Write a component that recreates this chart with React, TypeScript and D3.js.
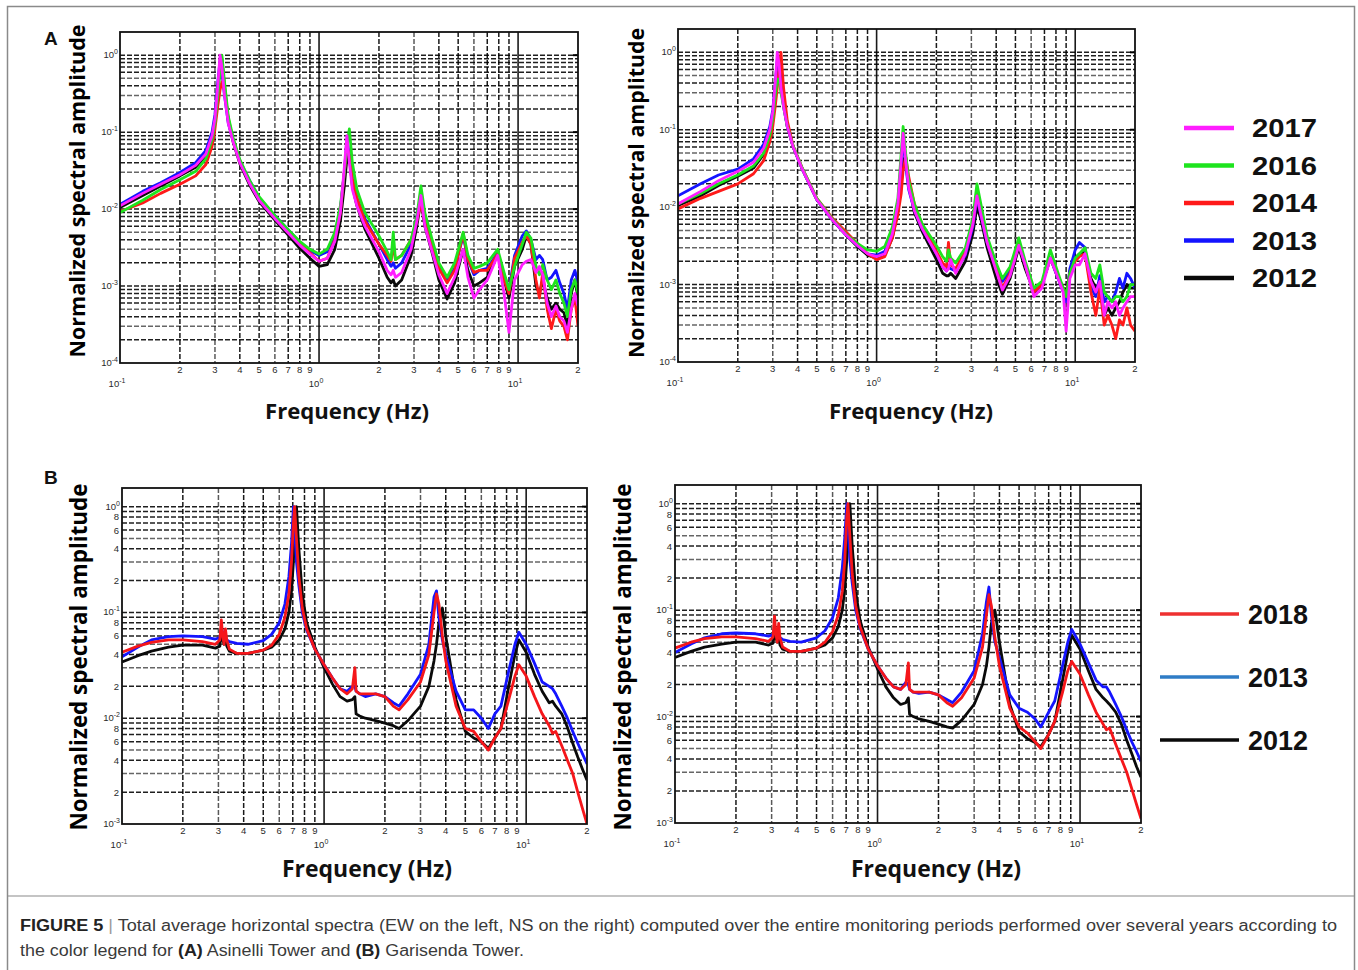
import React from "react";
import * as d3 from "d3";

// ---------------- Data ----------------
// Panel A, left (EW), Asinelli Tower
const FREQ_A_EW = [0.10, 0.13, 0.16, 0.20, 0.24, 0.27, 0.29, 0.30, 0.31, 0.318, 0.325, 0.335, 0.35, 0.37, 0.40, 0.45, 0.50, 0.60, 0.70, 0.80, 0.90, 1.00, 1.10, 1.20, 1.28, 1.34, 1.38, 1.42, 1.47, 1.55, 1.70, 2.00, 2.20, 2.30, 2.36, 2.42, 2.60, 2.90, 3.10, 3.25, 3.40, 3.70, 4.00, 4.40, 4.80, 5.30, 5.60, 6.00, 6.40, 7.00, 7.90, 8.50, 9.00, 9.60, 10.5, 11.0, 11.6, 12.3, 12.8, 13.3, 14.0, 14.7, 15.5, 16.2, 17.0, 17.7, 18.5, 19.3, 20.0];
const A_EW_2017 = [0.011, 0.016, 0.021, 0.028, 0.037, 0.052, 0.09, 0.15, 0.40, 1.0, 0.7, 0.3, 0.13, 0.075, 0.040, 0.021, 0.013, 0.0075, 0.0049, 0.0034, 0.0026, 0.0021, 0.0023, 0.0038, 0.009, 0.035, 0.09, 0.04, 0.018, 0.011, 0.006, 0.0028, 0.0016, 0.0014, 0.0016, 0.0013, 0.0015, 0.003, 0.007, 0.015, 0.006, 0.0028, 0.0014, 0.0008, 0.0013, 0.003, 0.0013, 0.0007, 0.0009, 0.0012, 0.0025, 0.0008, 0.00025, 0.0012, 0.0019, 0.0021, 0.0022, 0.0015, 0.0018, 0.0014, 0.0006, 0.0004, 0.00055, 0.0004, 0.00035, 0.00025, 0.0005, 0.0008, 0.00055];
const A_EW_2016 = [0.009, 0.013, 0.018, 0.024, 0.031, 0.045, 0.08, 0.13, 0.30, 0.6, 1.0, 0.45, 0.16, 0.085, 0.044, 0.023, 0.0145, 0.0082, 0.0054, 0.0038, 0.003, 0.0026, 0.003, 0.005, 0.011, 0.03, 0.07, 0.11, 0.04, 0.018, 0.009, 0.0045, 0.0028, 0.0022, 0.005, 0.0022, 0.0025, 0.004, 0.008, 0.02, 0.009, 0.004, 0.002, 0.0013, 0.002, 0.005, 0.0025, 0.0017, 0.0018, 0.002, 0.003, 0.0015, 0.0009, 0.0018, 0.0035, 0.005, 0.0042, 0.0018, 0.0014, 0.0019, 0.0012, 0.0009, 0.0012, 0.0008, 0.0006, 0.0004, 0.0009, 0.0012, 0.0008];
const A_EW_2014 = [0.0093, 0.012, 0.016, 0.021, 0.027, 0.038, 0.065, 0.11, 0.22, 0.35, 0.45, 0.35, 0.15, 0.08, 0.042, 0.022, 0.0135, 0.0078, 0.0051, 0.0035, 0.0027, 0.0021, 0.0023, 0.004, 0.009, 0.03, 0.065, 0.05, 0.025, 0.014, 0.007, 0.0035, 0.0025, 0.0021, 0.0035, 0.0022, 0.0025, 0.004, 0.007, 0.012, 0.007, 0.0035, 0.0017, 0.0011, 0.0016, 0.0048, 0.0022, 0.0015, 0.0016, 0.0016, 0.0026, 0.0012, 0.0008, 0.0023, 0.0037, 0.0045, 0.0035, 0.0012, 0.0007, 0.0015, 0.0005, 0.00028, 0.0005, 0.00035, 0.0003, 0.0002, 0.0005, 0.0007, 0.0003];
const A_EW_2013 = [0.0115, 0.017, 0.022, 0.030, 0.040, 0.058, 0.10, 0.17, 0.45, 0.85, 0.6, 0.3, 0.13, 0.078, 0.042, 0.023, 0.014, 0.0082, 0.0054, 0.0037, 0.0029, 0.0025, 0.0028, 0.0045, 0.01, 0.03, 0.08, 0.05, 0.025, 0.014, 0.0075, 0.0035, 0.0022, 0.0018, 0.002, 0.0017, 0.002, 0.0035, 0.008, 0.014, 0.007, 0.0035, 0.0018, 0.0012, 0.0017, 0.0045, 0.0022, 0.0014, 0.0016, 0.0017, 0.0027, 0.0014, 0.0009, 0.0025, 0.0045, 0.0052, 0.004, 0.0022, 0.0025, 0.0022, 0.0012, 0.0013, 0.0016, 0.0011, 0.0008, 0.0005, 0.0012, 0.0016, 0.0011];
const A_EW_2012 = [0.0105, 0.015, 0.020, 0.027, 0.035, 0.050, 0.085, 0.14, 0.35, 0.7, 0.9, 0.4, 0.14, 0.075, 0.039, 0.020, 0.0125, 0.0072, 0.0046, 0.0031, 0.0023, 0.0018, 0.0019, 0.003, 0.007, 0.02, 0.045, 0.05, 0.02, 0.011, 0.0055, 0.0023, 0.0013, 0.0011, 0.0012, 0.001, 0.0012, 0.0025, 0.006, 0.013, 0.006, 0.0027, 0.0012, 0.00068, 0.0011, 0.003, 0.0016, 0.001, 0.0011, 0.0013, 0.0028, 0.0012, 0.0007, 0.0018, 0.003, 0.0045, 0.0035, 0.001, 0.0008, 0.0012, 0.0007, 0.0005, 0.0006, 0.0005, 0.00045, 0.0003, 0.0008, 0.0012, 0.0007];

// Panel A, right (NS)
const FREQ_A_NS = [0.10, 0.13, 0.16, 0.20, 0.24, 0.27, 0.29, 0.30, 0.31, 0.316, 0.323, 0.33, 0.34, 0.355, 0.38, 0.42, 0.50, 0.60, 0.70, 0.80, 0.90, 1.00, 1.10, 1.20, 1.28, 1.33, 1.36, 1.40, 1.45, 1.55, 1.70, 2.00, 2.15, 2.25, 2.30, 2.36, 2.50, 2.80, 3.05, 3.20, 3.35, 3.60, 4.00, 4.30, 4.70, 5.20, 5.60, 6.20, 6.80, 7.50, 8.20, 8.70, 9.00, 9.40, 10.0, 10.5, 11.2, 12.0, 12.7, 13.3, 14.0, 14.6, 15.3, 16.0, 16.7, 17.4, 18.2, 19.0, 20.0];
const A_NS_2017 = [0.011, 0.016, 0.022, 0.029, 0.038, 0.058, 0.10, 0.17, 0.45, 1.0, 0.7, 0.35, 0.2, 0.11, 0.06, 0.032, 0.0125, 0.0068, 0.0044, 0.0032, 0.0025, 0.0023, 0.0025, 0.0045, 0.011, 0.04, 0.09, 0.04, 0.018, 0.009, 0.0052, 0.0025, 0.0017, 0.0015, 0.0016, 0.0021, 0.0014, 0.0025, 0.006, 0.014, 0.008, 0.0035, 0.0015, 0.00085, 0.0013, 0.0032, 0.0018, 0.0007, 0.0009, 0.0022, 0.0012, 0.0008, 0.00025, 0.0012, 0.0018, 0.0018, 0.0025, 0.0011, 0.0008, 0.0011, 0.0004, 0.0006, 0.0005, 0.0006, 0.0004, 0.0005, 0.0006, 0.0007, 0.0007];
const A_NS_2016 = [0.011, 0.015, 0.020, 0.026, 0.034, 0.050, 0.085, 0.14, 0.30, 0.45, 0.45, 0.3, 0.2, 0.11, 0.062, 0.033, 0.013, 0.007, 0.0045, 0.0034, 0.0028, 0.0027, 0.0031, 0.0055, 0.013, 0.05, 0.11, 0.05, 0.022, 0.011, 0.006, 0.0032, 0.0023, 0.002, 0.0028, 0.0022, 0.0019, 0.003, 0.007, 0.02, 0.011, 0.0042, 0.0019, 0.0012, 0.0017, 0.004, 0.002, 0.0009, 0.0011, 0.0028, 0.0014, 0.0009, 0.0007, 0.0014, 0.0022, 0.0025, 0.003, 0.0014, 0.0012, 0.0018, 0.0008, 0.0007, 0.0006, 0.0007, 0.0007, 0.0006, 0.0007, 0.001, 0.001];
const A_NS_2014 = [0.0095, 0.013, 0.016, 0.020, 0.027, 0.040, 0.07, 0.11, 0.22, 0.35, 0.6, 1.0, 0.35, 0.13, 0.062, 0.033, 0.013, 0.0072, 0.0048, 0.0034, 0.0025, 0.0021, 0.0023, 0.004, 0.008, 0.015, 0.03, 0.045, 0.025, 0.011, 0.0058, 0.0027, 0.0019, 0.0017, 0.0035, 0.0018, 0.0016, 0.0027, 0.006, 0.015, 0.01, 0.0038, 0.0016, 0.0009, 0.0014, 0.0035, 0.0018, 0.0008, 0.001, 0.0022, 0.0013, 0.0009, 0.0007, 0.0014, 0.002, 0.0023, 0.0025, 0.0008, 0.0004, 0.0009, 0.0003, 0.0004, 0.0003, 0.0002, 0.00035, 0.0003, 0.0005, 0.0003, 0.00025];
const A_NS_2013 = [0.0140, 0.020, 0.026, 0.031, 0.042, 0.065, 0.11, 0.18, 0.45, 0.8, 0.6, 0.35, 0.2, 0.11, 0.06, 0.032, 0.0125, 0.0068, 0.0044, 0.0032, 0.0025, 0.0024, 0.0027, 0.0048, 0.011, 0.035, 0.08, 0.035, 0.017, 0.009, 0.0052, 0.0025, 0.0017, 0.0015, 0.0017, 0.0016, 0.0015, 0.0024, 0.0055, 0.013, 0.008, 0.0035, 0.0016, 0.0011, 0.0015, 0.0035, 0.0018, 0.0008, 0.001, 0.0022, 0.0012, 0.0008, 0.0006, 0.0016, 0.0028, 0.0035, 0.003, 0.0009, 0.0007, 0.0013, 0.0006, 0.0007, 0.0006, 0.0008, 0.0012, 0.0009, 0.0014, 0.0012, 0.0009];
const A_NS_2012 = [0.0105, 0.014, 0.019, 0.025, 0.032, 0.048, 0.08, 0.13, 0.30, 0.6, 0.8, 0.45, 0.22, 0.11, 0.06, 0.032, 0.0125, 0.0068, 0.0044, 0.0031, 0.0024, 0.0022, 0.0024, 0.004, 0.009, 0.02, 0.04, 0.045, 0.02, 0.0085, 0.0048, 0.0021, 0.0014, 0.0013, 0.0013, 0.0014, 0.0012, 0.002, 0.0045, 0.01, 0.007, 0.003, 0.0012, 0.00075, 0.0012, 0.003, 0.0016, 0.0008, 0.001, 0.0022, 0.0012, 0.0009, 0.0007, 0.0015, 0.0022, 0.0025, 0.0026, 0.0012, 0.0009, 0.0011, 0.0004, 0.0005, 0.0004, 0.0005, 0.0006, 0.0008, 0.001, 0.0009, 0.0009];

// Panel B, left (EW), Garisenda Tower
const FREQ_B_EW = [0.10, 0.12, 0.14, 0.17, 0.20, 0.25, 0.29, 0.305, 0.31, 0.315, 0.32, 0.325, 0.33, 0.34, 0.37, 0.42, 0.50, 0.55, 0.60, 0.64, 0.67, 0.69, 0.705, 0.715, 0.73, 0.75, 0.78, 0.82, 0.90, 1.00, 1.10, 1.20, 1.30, 1.38, 1.42, 1.44, 1.50, 1.60, 1.80, 2.00, 2.20, 2.35, 2.60, 3.00, 3.30, 3.50, 3.60, 3.70, 3.85, 4.00, 4.50, 5.00, 5.50, 6.00, 6.50, 7.00, 7.50, 8.20, 8.80, 9.20, 10.0, 11.0, 12.0, 13.0, 13.5, 14.0, 15.0, 16.0, 17.0, 18.0, 19.0, 20.0];
const B_EW_2018 = [0.042, 0.048, 0.052, 0.055, 0.055, 0.053, 0.050, 0.055, 0.085, 0.06, 0.05, 0.07, 0.055, 0.045, 0.041, 0.041, 0.044, 0.049, 0.062, 0.09, 0.15, 0.3, 0.7, 1.0, 0.5, 0.22, 0.11, 0.07, 0.045, 0.032, 0.024, 0.019, 0.017, 0.019, 0.03, 0.018, 0.017, 0.017, 0.017, 0.016, 0.013, 0.012, 0.015, 0.022, 0.04, 0.10, 0.15, 0.12, 0.06, 0.035, 0.013, 0.008, 0.0075, 0.006, 0.005, 0.0065, 0.008, 0.015, 0.025, 0.032, 0.025, 0.016, 0.011, 0.0085, 0.0072, 0.0075, 0.0055, 0.004, 0.003, 0.002, 0.0014, 0.001];
const B_EW_2013 = [0.038, 0.047, 0.055, 0.059, 0.060, 0.059, 0.056, 0.058, 0.07, 0.065, 0.062, 0.058, 0.055, 0.053, 0.051, 0.05, 0.054, 0.062, 0.08, 0.12, 0.22, 0.45, 1.0, 0.6, 0.3, 0.18, 0.1, 0.068, 0.045, 0.032, 0.024, 0.019, 0.018, 0.02, 0.02, 0.018, 0.017, 0.016, 0.017, 0.016, 0.014, 0.013, 0.017, 0.026, 0.05, 0.14, 0.16, 0.09, 0.055, 0.04, 0.018, 0.012, 0.012, 0.010, 0.008, 0.011, 0.013, 0.028, 0.05, 0.065, 0.05, 0.033, 0.022, 0.020, 0.019, 0.017, 0.013, 0.010, 0.0075, 0.0058, 0.0046, 0.0037];
const B_EW_2012 = [0.034, 0.039, 0.043, 0.047, 0.049, 0.049, 0.046, 0.048, 0.065, 0.055, 0.05, 0.06, 0.048, 0.043, 0.041, 0.041, 0.044, 0.047, 0.055, 0.07, 0.10, 0.16, 0.3, 0.6, 1.0, 0.4, 0.15, 0.08, 0.047, 0.030, 0.021, 0.016, 0.0145, 0.015, 0.016, 0.011, 0.0105, 0.010, 0.0095, 0.009, 0.0085, 0.008, 0.0095, 0.013, 0.02, 0.035, 0.05, 0.08, 0.11, 0.06, 0.015, 0.0075, 0.0065, 0.006, 0.0052, 0.0065, 0.008, 0.02, 0.04, 0.055, 0.042, 0.026, 0.018, 0.014, 0.0145, 0.013, 0.011, 0.0082, 0.0058, 0.0043, 0.0033, 0.0026];

// Panel B, right (NS)
const FREQ_B_NS = [0.10, 0.12, 0.14, 0.17, 0.20, 0.25, 0.29, 0.305, 0.31, 0.315, 0.32, 0.325, 0.33, 0.34, 0.37, 0.42, 0.50, 0.55, 0.60, 0.64, 0.67, 0.69, 0.705, 0.715, 0.73, 0.75, 0.78, 0.82, 0.90, 1.00, 1.10, 1.20, 1.30, 1.38, 1.42, 1.44, 1.50, 1.60, 1.80, 2.00, 2.20, 2.35, 2.60, 3.00, 3.30, 3.45, 3.55, 3.65, 3.80, 4.00, 4.50, 5.00, 5.50, 6.00, 6.40, 7.00, 7.50, 8.20, 8.70, 9.10, 10.0, 11.0, 12.0, 13.0, 13.5, 14.0, 15.0, 16.0, 17.0, 18.0, 19.0, 20.0];
const B_NS_2018 = [0.044, 0.050, 0.054, 0.056, 0.056, 0.054, 0.051, 0.056, 0.088, 0.06, 0.05, 0.075, 0.055, 0.045, 0.041, 0.041, 0.044, 0.05, 0.063, 0.09, 0.15, 0.3, 0.75, 1.0, 0.5, 0.22, 0.11, 0.07, 0.043, 0.030, 0.023, 0.019, 0.018, 0.02, 0.032, 0.018, 0.017, 0.017, 0.017, 0.016, 0.0135, 0.0125, 0.015, 0.023, 0.045, 0.09, 0.14, 0.11, 0.055, 0.03, 0.012, 0.008, 0.007, 0.0058, 0.005, 0.0068, 0.009, 0.017, 0.027, 0.033, 0.025, 0.016, 0.011, 0.0085, 0.0075, 0.0078, 0.0055, 0.004, 0.003, 0.0021, 0.0015, 0.0011];
const B_NS_2013 = [0.040, 0.048, 0.055, 0.060, 0.061, 0.060, 0.057, 0.059, 0.068, 0.063, 0.06, 0.058, 0.055, 0.053, 0.051, 0.05, 0.055, 0.064, 0.085, 0.13, 0.25, 0.5, 1.0, 0.6, 0.3, 0.18, 0.1, 0.068, 0.043, 0.030, 0.023, 0.019, 0.018, 0.021, 0.02, 0.018, 0.017, 0.0165, 0.017, 0.016, 0.0145, 0.0135, 0.017, 0.027, 0.06, 0.12, 0.165, 0.09, 0.05, 0.036, 0.016, 0.012, 0.011, 0.0095, 0.008, 0.011, 0.014, 0.03, 0.05, 0.066, 0.048, 0.032, 0.022, 0.019, 0.019, 0.017, 0.013, 0.010, 0.0075, 0.0058, 0.0047, 0.0038];
const B_NS_2012 = [0.036, 0.041, 0.045, 0.048, 0.050, 0.050, 0.047, 0.049, 0.06, 0.055, 0.05, 0.058, 0.047, 0.043, 0.041, 0.041, 0.044, 0.047, 0.055, 0.07, 0.10, 0.16, 0.3, 0.6, 1.0, 0.4, 0.15, 0.08, 0.045, 0.028, 0.019, 0.015, 0.013, 0.0135, 0.015, 0.0105, 0.010, 0.0095, 0.009, 0.0085, 0.008, 0.0078, 0.0092, 0.013, 0.02, 0.03, 0.045, 0.075, 0.10, 0.05, 0.013, 0.0072, 0.0062, 0.0057, 0.0052, 0.0068, 0.009, 0.022, 0.04, 0.058, 0.043, 0.027, 0.018, 0.015, 0.014, 0.013, 0.011, 0.0085, 0.006, 0.0045, 0.0034, 0.0027];

const LEGEND_A = ["2017", "2016", "2014", "2013", "2012"];
const LEGEND_B = ["2018", "2013", "2012"];
const COLORS_A = ["#ff1eff", "#1ee41e", "#ff1a1a", "#1414ff", "#0a0a0a"];
const COLORS_B = ["#f5161a", "#1414ff", "#0a0a0a"];
const LEGEND_B_COLORS = ["#ee3030", "#2f7cc6", "#0a0a0a"];

const TICK_FONT = "'Liberation Sans', Arial, sans-serif";
const TITLE_FONT = "'Open Sans', 'DejaVu Sans', sans-serif";

type SeriesDef = { color: string; values: number[] };

interface PanelProps {
  id: string;
  x0: number; x1: number; yTop: number; yBottom: number;
  yDomain: [number, number];
  freqs: number[];
  series: SeriesDef[];
  minorYLabels: boolean;
  yTitle: { cx: number; cy: number; len: number; size: number };
  xTitle: { cx: number; y: number; len: number; size: number };
}

function DecadeLabel({ x, y, exp, anchor }: { x: number; y: number; exp: number; anchor: string }) {
  return (
    <text x={x} y={y} textAnchor={anchor} fontFamily={TICK_FONT} fontSize={9.5} fill="#2a2a2a">
      <tspan>10</tspan>
      <tspan dy={-4} fontSize={7}>{exp}</tspan>
    </text>
  );
}

function Panel(p: PanelProps) {
  const x = d3.scaleLog().domain([0.1, 20]).range([p.x0, p.x1]);
  const y = d3.scaleLog().domain(p.yDomain).range([p.yBottom, p.yTop]);
  const kMin = Math.round(Math.log10(p.yDomain[0]));

  const xTicks: { v: number; m: number; k: number }[] = [];
  for (const k of [-1, 0, 1]) {
    for (let m = 1; m <= 9; m++) {
      const v = m * Math.pow(10, k);
      if (v > 0.1 * 1.001 && v < 20 * 0.999) xTicks.push({ v, m, k });
    }
  }
  const yTicks: { v: number; m: number; k: number }[] = [];
  for (let k = kMin; k <= 0; k++) {
    for (let m = 1; m <= 9; m++) {
      const v = m * Math.pow(10, k);
      if (v > p.yDomain[0] * 1.001 && v < p.yDomain[1] * 0.999) yTicks.push({ v, m, k });
    }
  }
  const line = d3
    .line<[number, number]>()
    .x((d) => x(d[0]))
    .y((d) => y(d[1]));

  return (
    <g>
      <defs>
        <clipPath id={`clip-${p.id}`}>
          <rect x={p.x0} y={p.yTop} width={p.x1 - p.x0} height={p.yBottom - p.yTop} />
        </clipPath>
      </defs>
      {/* grid */}
      {yTicks.map((t, i) => (
        <line key={`gy${i}`} x1={p.x0} x2={p.x1} y1={y(t.v)} y2={y(t.v)}
          stroke="#000" strokeWidth={1.5} strokeDasharray="5 2"
          strokeOpacity={t.m === 3 || t.m === 5 ? 0.6 : 0.88} />
      ))}
      {xTicks.map((t, i) => (
        <line key={`gx${i}`} x1={x(t.v)} x2={x(t.v)} y1={p.yTop} y2={p.yBottom}
          stroke="#000" strokeWidth={t.m === 1 ? 1.6 : 1.5}
          strokeDasharray={t.m === 1 ? undefined : "5 2"}
          strokeOpacity={t.m === 6 || t.m === 3 ? 0.65 : 0.9} />
      ))}
      {/* right-side decade ticks */}
      {yTicks.filter((t) => t.m === 1).map((t, i) => (
        <line key={`rt${i}`} x1={p.x1 - 5} x2={p.x1} y1={y(t.v)} y2={y(t.v)} stroke="#000" strokeWidth={2} />
      ))}
      {/* series */}
      <g clipPath={`url(#clip-${p.id})`}>
        {p.series.map((s, i) => (
          <path key={`s${i}`}
            d={line(p.freqs.map((f, j) => [f, s.values[j]] as [number, number])) || ""}
            fill="none" stroke={s.color} strokeWidth={2.8} strokeLinejoin="round" />
        ))}
      </g>
      {/* frame */}
      <rect x={p.x0} y={p.yTop} width={p.x1 - p.x0} height={p.yBottom - p.yTop}
        fill="none" stroke="#111" strokeWidth={1.8} />
      {/* y tick labels */}
      {yTicks.filter((t) => t.m === 1).map((t, i) => (
        <DecadeLabel key={`yl${i}`} x={p.x0 - 2} y={y(t.v) + 3} exp={t.k} anchor="end" />
      ))}
      <DecadeLabel x={p.x0 - 2} y={p.yBottom + 3} exp={kMin} anchor="end" />
      {p.minorYLabels &&
        yTicks.filter((t) => t.m % 2 === 0).map((t, i) => (
          <text key={`ym${i}`} x={p.x0 - 3} y={y(t.v) + 3.5} textAnchor="end"
            fontFamily={TICK_FONT} fontSize={9.5} fill="#2a2a2a">{t.m}</text>
        ))}
      {/* x tick labels */}
      {xTicks.filter((t) => t.m > 1).map((t, i) => (
        <text key={`xm${i}`} x={x(t.v)} y={p.yBottom + 10} textAnchor="middle"
          fontFamily={TICK_FONT} fontSize={9.5} fill="#2a2a2a">{t.m}</text>
      ))}
      <text x={x(20)} y={p.yBottom + 10} textAnchor="middle" fontFamily={TICK_FONT} fontSize={9.5} fill="#2a2a2a">2</text>
      {[0.1, 1, 10].map((v, i) => (
        <DecadeLabel key={`xd${i}`} x={x(v) - 3} y={p.yBottom + 24} exp={Math.round(Math.log10(v))} anchor="middle" />
      ))}
      {/* titles */}
      <text transform={`translate(${p.yTitle.cx},${p.yTitle.cy}) rotate(-90)`} textAnchor="middle"
        dy="0.36em" fontFamily={TITLE_FONT} fontWeight={700} fontSize={p.yTitle.size}
        textLength={p.yTitle.len} lengthAdjust="spacingAndGlyphs" fill="#000">
        Normalized spectral amplitude
      </text>
      <text x={p.xTitle.cx} y={p.xTitle.y} textAnchor="middle"
        fontFamily={TITLE_FONT} fontWeight={700} fontSize={p.xTitle.size}
        textLength={p.xTitle.len} lengthAdjust="spacingAndGlyphs" fill="#111">
        Frequency (Hz)
      </text>
    </g>
  );
}

export default function App() {
  const seriesAEW: SeriesDef[] = [
    { color: COLORS_A[4], values: A_EW_2012 },
    { color: COLORS_A[3], values: A_EW_2013 },
    { color: COLORS_A[2], values: A_EW_2014 },
    { color: COLORS_A[1], values: A_EW_2016 },
    { color: COLORS_A[0], values: A_EW_2017 },
  ];
  const seriesANS: SeriesDef[] = [
    { color: COLORS_A[4], values: A_NS_2012 },
    { color: COLORS_A[3], values: A_NS_2013 },
    { color: COLORS_A[2], values: A_NS_2014 },
    { color: COLORS_A[1], values: A_NS_2016 },
    { color: COLORS_A[0], values: A_NS_2017 },
  ];
  const seriesBEW: SeriesDef[] = [
    { color: COLORS_B[2], values: B_EW_2012 },
    { color: COLORS_B[1], values: B_EW_2013 },
    { color: COLORS_B[0], values: B_EW_2018 },
  ];
  const seriesBNS: SeriesDef[] = [
    { color: COLORS_B[2], values: B_NS_2012 },
    { color: COLORS_B[1], values: B_NS_2013 },
    { color: COLORS_B[0], values: B_NS_2018 },
  ];

  const legendAy = d3.scaleLinear().domain([0, 4]).range([128, 278]);
  const legendBy = d3.scaleLinear().domain([0, 2]).range([614, 740]);

  return (
    <svg width={1358} height={970} style={{ position: "absolute", left: 0, top: 0, background: "#fff" }}>
      <rect x={0} y={0} width={1358} height={970} fill="#fff" />
      <rect x={7.5} y={6.5} width={1347} height={990} fill="none" stroke="#8a8a8a" strokeWidth={1.5} />
      <line x1={7.5} x2={1354.5} y1={896} y2={896} stroke="#8a8a8a" strokeWidth={1.2} />

      <text x={44} y={45} fontFamily={TICK_FONT} fontWeight={700} fontSize={19} fill="#111">A</text>
      <text x={44} y={484} fontFamily={TICK_FONT} fontWeight={700} fontSize={19} fill="#111">B</text>

      <Panel id="aew" x0={120} x1={578} yTop={32} yBottom={363} yDomain={[1e-4, 2]}
        freqs={FREQ_A_EW} series={seriesAEW} minorYLabels={false}
        yTitle={{ cx: 77, cy: 191, len: 333, size: 22 }}
        xTitle={{ cx: 347, y: 419, len: 164, size: 22 }} />
      <Panel id="ans" x0={678} x1={1135} yTop={29} yBottom={362} yDomain={[1e-4, 2]}
        freqs={FREQ_A_NS} series={seriesANS} minorYLabels={false}
        yTitle={{ cx: 636, cy: 193, len: 330, size: 22 }}
        xTitle={{ cx: 911, y: 419, len: 164, size: 22 }} />
      <Panel id="bew" x0={122} x1={587} yTop={488} yBottom={824} yDomain={[1e-3, 1.5]}
        freqs={FREQ_B_EW} series={seriesBEW} minorYLabels={true}
        yTitle={{ cx: 79, cy: 657, len: 347, size: 23 }}
        xTitle={{ cx: 367, y: 877, len: 170, size: 23 }} />
      <Panel id="bns" x0={675} x1={1141} yTop={485} yBottom={823} yDomain={[1e-3, 1.5]}
        freqs={FREQ_B_NS} series={seriesBNS} minorYLabels={true}
        yTitle={{ cx: 623, cy: 657, len: 347, size: 23 }}
        xTitle={{ cx: 936, y: 877, len: 170, size: 23 }} />

      {/* Legend A */}
      {LEGEND_A.map((name, i) => (
        <g key={`la${i}`}>
          <line x1={1184} x2={1234} y1={legendAy(i)} y2={legendAy(i)} stroke={COLORS_A[i]} strokeWidth={4.5} />
          <text x={1252} y={legendAy(i) + 9} fontFamily={TICK_FONT} fontWeight={700} fontSize={26}
            textLength={65} lengthAdjust="spacingAndGlyphs" fill="#111">{name}</text>
        </g>
      ))}
      {/* Legend B */}
      {LEGEND_B.map((name, i) => (
        <g key={`lb${i}`}>
          <line x1={1160} x2={1239} y1={legendBy(i)} y2={legendBy(i)} stroke={LEGEND_B_COLORS[i]} strokeWidth={3.5} />
          <text x={1248} y={legendBy(i) + 10} fontFamily={TICK_FONT} fontWeight={700} fontSize={27}
            textLength={60} lengthAdjust="spacingAndGlyphs" fill="#111">{name}</text>
        </g>
      ))}

      {/* Caption */}
      <text x={20} y={931} fontFamily="'Liberation Sans Narrow', 'Arial Narrow', 'Liberation Sans', sans-serif"
        fontSize={16} fill="#3a3a3a" textLength={1317} lengthAdjust="spacingAndGlyphs">
        <tspan fontWeight={700} fill="#222">FIGURE 5</tspan>
        <tspan fill="#999"> | </tspan>
        <tspan>Total average horizontal spectra (EW on the left, NS on the right) computed over the entire monitoring periods performed over several years according to</tspan>
      </text>
      <text x={20} y={956} fontFamily="'Liberation Sans Narrow', 'Arial Narrow', 'Liberation Sans', sans-serif"
        fontSize={16} fill="#3a3a3a" textLength={504} lengthAdjust="spacingAndGlyphs">
        <tspan>the color legend for </tspan>
        <tspan fontWeight={700} fill="#222">(A)</tspan>
        <tspan> Asinelli Tower and </tspan>
        <tspan fontWeight={700} fill="#222">(B)</tspan>
        <tspan> Garisenda Tower.</tspan>
      </text>
    </svg>
  );
}
